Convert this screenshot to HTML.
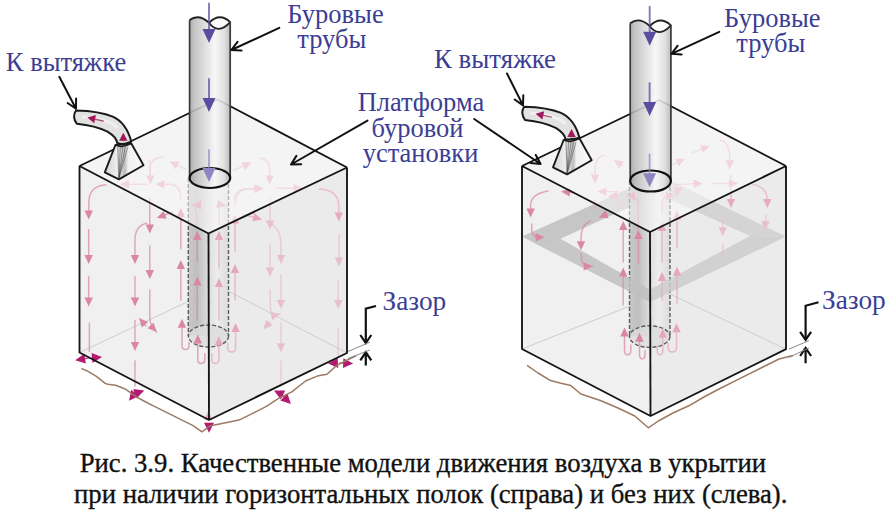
<!DOCTYPE html><html><head><meta charset="utf-8"><style>html,body{margin:0;padding:0;background:#fff;overflow:hidden}svg{display:block;font-family:"Liberation Serif",serif}</style></head><body>
<svg width="890" height="512" viewBox="0 0 890 512">
<defs>
<linearGradient id="pg" x1="0" x2="1" y1="0" y2="0">
<stop offset="0" stop-color="#a4a4a4"/><stop offset="0.12" stop-color="#bdbdbd"/><stop offset="0.62" stop-color="#f6f6f6"/><stop offset="0.85" stop-color="#dedede"/><stop offset="1" stop-color="#b4b4b4"/>
</linearGradient>
<linearGradient id="pgi" x1="0" x2="1" y1="0" y2="0">
<stop offset="0" stop-color="#c4c4c4"/><stop offset="0.22" stop-color="#bababa"/><stop offset="0.5" stop-color="#dcdcdc"/><stop offset="0.72" stop-color="#ededed"/><stop offset="1" stop-color="#dadada"/>
</linearGradient>
<linearGradient id="hood" x1="0" x2="1" y1="0" y2="0">
<stop offset="0" stop-color="#d4d4d4"/><stop offset="0.3" stop-color="#ececec"/><stop offset="0.45" stop-color="#cfcfcf"/><stop offset="0.52" stop-color="#bcbcbc"/><stop offset="0.6" stop-color="#f0f0f0"/><stop offset="1" stop-color="#fafafa"/>
</linearGradient>
</defs>
<rect width="890" height="512" fill="#fff"/>
<polygon points="79.5,166.0 217.5,99.5 347.0,167.5 347.0,353.0 209.0,420.0 79.5,352.5" fill="#f0f0f0"/><polygon points="208.5,233.5 347.0,167.5 347.0,353.0 209.0,420.0" fill="#ebebeb"/><polyline points="79.5,352.5 200.0,296.0" fill="none" stroke="#cdcdcd" stroke-width="1"/><polyline points="217.5,285.5 347.0,353.0" fill="none" stroke="#cdcdcd" stroke-width="1"/>
<rect x="188.3" y="178" width="40.19999999999999" height="158" fill="url(#pgi)" opacity="0.9"/><ellipse cx="208.5" cy="336" rx="20.099999999999994" ry="11" fill="#dcdcdc" opacity="0.8"/><line x1="188.3" y1="178" x2="188.3" y2="336" stroke="#5c5c5c" stroke-width="1.4" stroke-dasharray="4,2"/><line x1="228.5" y1="178" x2="228.5" y2="336" stroke="#5c5c5c" stroke-width="1.4" stroke-dasharray="4,2"/><ellipse cx="208.5" cy="336" rx="20.099999999999994" ry="11" fill="none" stroke="#5c5c5c" stroke-width="1.4" stroke-dasharray="4,2"/>
<path d="M105.9,184.7 Q90,186 89,200 L88.7,212" fill="none" stroke="#da86a6" stroke-width="1.45" stroke-linecap="round" opacity="0.72"/><polygon points="88.7,219.5 84.5,210.5 92.9,210.5" fill="#da86a6" opacity="1"/><path d="M88.7,229.6 L88.7,258.6" fill="none" stroke="#da86a6" stroke-width="1.45" stroke-linecap="round" opacity="0.72"/><polygon points="88.7,264.0 84.5,255.0 92.9,255.0" fill="#da86a6" opacity="1"/><path d="M88.7,276.6 L88.7,301.1" fill="none" stroke="#da86a6" stroke-width="1.45" stroke-linecap="round" opacity="0.72"/><polygon points="88.7,306.5 84.5,297.5 92.9,297.5" fill="#da86a6" opacity="1"/><path d="M89.4,323 L89.4,351.6" fill="none" stroke="#da86a6" stroke-width="1.45" stroke-linecap="round" opacity="0.72"/><path d="M146.5,223.3 Q135,226 135,240 L135,258" fill="none" stroke="#da86a6" stroke-width="1.45" stroke-linecap="round" opacity="0.72"/><polygon points="135.0,264.0 130.8,255.0 139.2,255.0" fill="#da86a6" opacity="1"/><path d="M135,276.6 L135.0,301.1" fill="none" stroke="#da86a6" stroke-width="1.45" stroke-linecap="round" opacity="0.72"/><polygon points="135.0,306.5 130.8,297.5 139.2,297.5" fill="#da86a6" opacity="1"/><path d="M135,320.5 L135.0,345.6" fill="none" stroke="#da86a6" stroke-width="1.45" stroke-linecap="round" opacity="0.72"/><polygon points="135.0,351.0 130.8,342.0 139.2,342.0" fill="#da86a6" opacity="1"/><path d="M135,361 L135.0,386.1" fill="none" stroke="#da86a6" stroke-width="1.45" stroke-linecap="round" opacity="0.72"/><path d="M149.8,198 L149.8,228.1" fill="none" stroke="#da86a6" stroke-width="1.45" stroke-linecap="round" opacity="0.72"/><polygon points="149.8,233.5 145.6,224.5 154.0,224.5" fill="#da86a6" opacity="1"/><path d="M149.8,246 L149.8,273.6" fill="none" stroke="#da86a6" stroke-width="1.45" stroke-linecap="round" opacity="0.72"/><polygon points="149.8,279.0 145.6,270.0 154.0,270.0" fill="#da86a6" opacity="1"/><path d="M149.8,290 L149.8,318 Q150,326 156.7,332" fill="none" stroke="#da86a6" stroke-width="1.45" stroke-linecap="round" opacity="0.72"/><polygon points="156.7,332.0 147.5,328.3 153.6,322.6" fill="#da86a6" opacity="1"/><path d="M146,326 L142.6,322.1" fill="none" stroke="#da86a6" stroke-width="1.45" stroke-linecap="round" opacity="0.72"/><polygon points="139.0,318.0 148.1,322.0 141.8,327.5" fill="#da86a6" opacity="1"/><path d="M172.7,212 L161.8,216.1" fill="none" stroke="#da86a6" stroke-width="1.45" stroke-linecap="round" opacity="0.72"/><polygon points="156.7,218.0 163.7,210.9 166.6,218.8" fill="#da86a6" opacity="1"/><path d="M180.8,248.7 L180.8,213.4" fill="none" stroke="#da86a6" stroke-width="1.45" stroke-linecap="round" opacity="0.72"/><polygon points="180.8,208.0 185.0,217.0 176.6,217.0" fill="#da86a6" opacity="1"/><path d="M180.8,300 L180.8,265.4" fill="none" stroke="#da86a6" stroke-width="1.45" stroke-linecap="round" opacity="0.72"/><polygon points="180.8,260.0 185.0,269.0 176.6,269.0" fill="#da86a6" opacity="1"/><path d="M197.3,320 L197.3,282.0" fill="none" stroke="#da86a6" stroke-width="1.45" stroke-linecap="round" opacity="0.72"/><polygon points="197.3,276.6 201.5,285.6 193.1,285.6" fill="#da86a6" opacity="1"/><path d="M197.3,262 L197.3,236.4" fill="none" stroke="#da86a6" stroke-width="1.45" stroke-linecap="round" opacity="0.72"/><polygon points="197.3,231.0 201.5,240.0 193.1,240.0" fill="#da86a6" opacity="1"/><path d="M197.3,228 Q197,205 192,205" fill="none" stroke="#da86a6" stroke-width="1.3" stroke-linecap="round" opacity="0.72"/><polygon points="192.0,205.0 201.0,200.8 201.0,209.2" fill="#da86a6" opacity="1"/><path d="M219,320 L219.0,283.4" fill="none" stroke="#e6a6bf" stroke-width="1.45" stroke-linecap="round" opacity="0.72"/><polygon points="219.0,278.0 223.2,287.0 214.8,287.0" fill="#e6a6bf" opacity="1"/><path d="M219,268 L219.0,236.4" fill="none" stroke="#e6a6bf" stroke-width="1.45" stroke-linecap="round" opacity="0.72"/><polygon points="219.0,231.0 223.2,240.0 214.8,240.0" fill="#e6a6bf" opacity="1"/><path d="M219,225 L219,210 Q220,204 226,206" fill="none" stroke="#e6a6bf" stroke-width="1.3" stroke-linecap="round" opacity="0.72"/><polygon points="226.0,206.0 216.3,207.9 218.3,199.7" fill="#e6a6bf" opacity="1"/><path d="M235,300 L235.0,269.4" fill="none" stroke="#e6a6bf" stroke-width="1.45" stroke-linecap="round" opacity="0.72"/><polygon points="235.0,264.0 239.2,273.0 230.8,273.0" fill="#e6a6bf" opacity="1"/><path d="M235,251 L235.0,219.8" fill="none" stroke="#e6a6bf" stroke-width="1.45" stroke-linecap="round" opacity="0.72"/><polygon points="235.0,214.4 239.2,223.4 230.8,223.4" fill="#e6a6bf" opacity="1"/><path d="M235,205 Q236,189 248,189 L258,188.5" fill="none" stroke="#e6a6bf" stroke-width="1.45" stroke-linecap="round" opacity="0.72"/><polygon points="263.4,188.3 254.5,192.6 254.4,184.2" fill="#e6a6bf" opacity="1"/><path d="M243,214.4 L256.8,218.1" fill="none" stroke="#e6a6bf" stroke-width="1.45" stroke-linecap="round" opacity="0.72"/><polygon points="262.0,219.5 252.2,221.2 254.4,213.1" fill="#e6a6bf" opacity="1"/><path d="M270,198 L270.0,224.2" fill="none" stroke="#e8bfcf" stroke-width="1.45" stroke-linecap="round" opacity="0.72"/><polygon points="270.0,229.6 265.8,220.6 274.2,220.6" fill="#e8bfcf" opacity="1"/><path d="M270,243.6 L270.0,271.2" fill="none" stroke="#e8bfcf" stroke-width="1.45" stroke-linecap="round" opacity="0.72"/><polygon points="270.0,276.6 265.8,267.6 274.2,267.6" fill="#e8bfcf" opacity="1"/><path d="M272,224.6 Q281,230 281,245 L281,258" fill="none" stroke="#e8bfcf" stroke-width="1.45" stroke-linecap="round" opacity="0.72"/><polygon points="281.0,264.0 276.8,255.0 285.2,255.0" fill="#e8bfcf" opacity="1"/><path d="M281,275 L281.0,303.6" fill="none" stroke="#e8bfcf" stroke-width="1.45" stroke-linecap="round" opacity="0.72"/><polygon points="281.0,309.0 276.8,300.0 285.2,300.0" fill="#e8bfcf" opacity="1"/><path d="M281,323 L281.0,346.8" fill="none" stroke="#e8bfcf" stroke-width="1.45" stroke-linecap="round" opacity="0.72"/><polygon points="281.0,352.2 276.8,343.2 285.2,343.2" fill="#e8bfcf" opacity="1"/><path d="M281,361 L281.0,386.1" fill="none" stroke="#e8bfcf" stroke-width="1.45" stroke-linecap="round" opacity="0.72"/><path d="M270,290 L270.5,310 Q272,316 280,314" fill="none" stroke="#e8bfcf" stroke-width="1.45" stroke-linecap="round" opacity="0.72"/><polygon points="280.0,314.0 272.3,320.3 270.3,312.1" fill="#e8bfcf" opacity="1"/><path d="M270,322 L267.0,325.3" fill="none" stroke="#e8bfcf" stroke-width="1.45" stroke-linecap="round" opacity="0.72"/><polygon points="263.4,329.3 266.3,319.8 272.6,325.4" fill="#e8bfcf" opacity="1"/><path d="M339,234.7 L339.0,261.0" fill="none" stroke="#e8bfcf" stroke-width="1.45" stroke-linecap="round" opacity="0.72"/><polygon points="339.0,266.4 334.8,257.4 343.2,257.4" fill="#e8bfcf" opacity="1"/><path d="M338.2,280 L338.2,303.6" fill="none" stroke="#e8bfcf" stroke-width="1.45" stroke-linecap="round" opacity="0.72"/><polygon points="338.2,309.0 334.0,300.0 342.4,300.0" fill="#e8bfcf" opacity="1"/><path d="M338.2,328 L338.2,355.6" fill="none" stroke="#e8bfcf" stroke-width="1.45" stroke-linecap="round" opacity="0.72"/><path d="M189,342.4 L189,345.4 Q189,349.4 185.5,349.4 Q182,349.4 182,345.4 L182,323.7" fill="none" stroke="#da86a6" stroke-width="1.5" stroke-linecap="round" opacity="0.72"/><polygon points="182.0,318.7 186.2,327.7 177.8,327.7" fill="#da86a6" opacity="1"/><path d="M204.8,353.8 L204.8,359.5 Q204.8,363.5 201.3,363.5 Q197.8,363.5 197.8,359.5 L197.8,339.5" fill="none" stroke="#da86a6" stroke-width="1.5" stroke-linecap="round" opacity="0.72"/><polygon points="197.8,334.5 202.0,343.5 193.6,343.5" fill="#da86a6" opacity="1"/><path d="M211.8,353.8 L211.8,359.5 Q211.8,363.5 215.35000000000002,363.5 Q218.9,363.5 218.9,359.5 L218.9,341.2" fill="none" stroke="#e6a6bf" stroke-width="1.5" stroke-linecap="round" opacity="0.72"/><polygon points="218.9,336.2 223.1,345.2 214.7,345.2" fill="#e6a6bf" opacity="1"/><path d="M227.7,343.3 L227.7,348 Q227.7,352 231.64999999999998,352 Q235.6,352 235.6,348 L235.6,328" fill="none" stroke="#e6a6bf" stroke-width="1.5" stroke-linecap="round" opacity="0.72"/><polygon points="235.6,323.0 239.8,332.0 231.4,332.0" fill="#e6a6bf" opacity="1"/>
<path d="M185.7,169.4 L174.4,163.8" fill="none" stroke="#e9a9c2" stroke-width="1.45" stroke-linecap="round" opacity="0.72"/><polygon points="169.6,161.4 179.5,161.6 175.8,169.2" fill="#e9a9c2" opacity="1"/><path d="M233.3,170.5 L246.6,164.6" fill="none" stroke="#e9a9c2" stroke-width="1.45" stroke-linecap="round" opacity="0.72"/><polygon points="251.5,162.4 245.0,169.9 241.6,162.2" fill="#e9a9c2" opacity="1"/><path d="M163.5,157.3 Q151,157 150.3,168 L150.3,178" fill="none" stroke="#e9a9c2" stroke-width="1.45" stroke-linecap="round" opacity="0.72"/><polygon points="150.3,184.6 146.1,175.6 154.5,175.6" fill="#e9a9c2" opacity="1"/><path d="M259.6,158.3 Q270,159 269.7,170 L269.7,178" fill="none" stroke="#e9a9c2" stroke-width="1.45" stroke-linecap="round" opacity="0.72"/><polygon points="269.7,184.6 265.5,175.6 273.9,175.6" fill="#e9a9c2" opacity="1"/><path d="M146.3,184.2 L125.4,184.2" fill="none" stroke="#e9a9c2" stroke-width="1.45" stroke-linecap="round" opacity="0.72"/><polygon points="120.0,184.2 129.0,180.0 129.0,188.4" fill="#e9a9c2" opacity="1"/><path d="M180.7,198.8 Q181,184.5 170,184.2 L162,184.2" fill="none" stroke="#e9a9c2" stroke-width="1.45" stroke-linecap="round" opacity="0.72"/><polygon points="155.4,184.2 164.4,180.0 164.4,188.4" fill="#e9a9c2" opacity="1"/><path d="M234.3,198.8 Q236,188.7 248,188.7 L257,188.7" fill="none" stroke="#e9a9c2" stroke-width="1.45" stroke-linecap="round" opacity="0.72"/><polygon points="263.6,188.7 254.6,192.9 254.6,184.5" fill="#e9a9c2" opacity="1"/><path d="M276.6,188.3 L297.3,188.3" fill="none" stroke="#e9a9c2" stroke-width="1.45" stroke-linecap="round" opacity="0.72"/><polygon points="302.7,188.3 293.7,192.5 293.7,184.1" fill="#e9a9c2" opacity="1"/><path d="M319.5,189 Q338,190 338.8,205 L338.8,214" fill="none" stroke="#e9a9c2" stroke-width="1.45" stroke-linecap="round" opacity="0.72"/><polygon points="338.8,221.6 334.6,212.6 343.0,212.6" fill="#e9a9c2" opacity="1"/><path d="M149.8,160 L149.8,182.4" fill="none" stroke="#e9a9c2" stroke-width="1.45" stroke-linecap="round" opacity="0.72"/>
<polygon points="79.5,166.0 217.5,99.5 347.0,167.5 208.5,233.5" fill="#f7f7f7" opacity="0.55"/>
<path d="M89,358 L81.1,359.3" fill="none" stroke="#b41a70" stroke-width="1.45" stroke-linecap="round" opacity="0.72"/><polygon points="75.2,360.2 84.3,353.7 85.9,363.6" fill="#b41a70" opacity="1"/><path d="M92,358 L96.0,357.6" fill="none" stroke="#b41a70" stroke-width="1.45" stroke-linecap="round" opacity="0.72"/><polygon points="102.0,357.0 92.5,363.0 91.6,353.0" fill="#b41a70" opacity="1"/><path d="M135,393 L132.7,396.0" fill="none" stroke="#b41a70" stroke-width="1.45" stroke-linecap="round" opacity="0.72"/><polygon points="129.0,400.7 131.2,389.7 139.1,395.9" fill="#b41a70" opacity="1"/><path d="M137,393 L138.6,392.5" fill="none" stroke="#b41a70" stroke-width="1.45" stroke-linecap="round" opacity="0.72"/><polygon points="144.3,390.6 136.4,398.5 133.2,389.0" fill="#b41a70" opacity="1"/><path d="M209,424 L209.0,426.7" fill="none" stroke="#b41a70" stroke-width="1.45" stroke-linecap="round" opacity="0.72"/><polygon points="209.0,432.7 204.0,422.7 214.0,422.7" fill="#b41a70" opacity="1"/><path d="M208.3,418 L208.3,416.2" fill="none" stroke="#e6a6bf" stroke-width="1.45" stroke-linecap="round" opacity="0.72"/><polygon points="208.3,410.8 212.3,419.8 204.3,419.8" fill="#e6a6bf" opacity="1"/><path d="M281,394 L279.4,393.2" fill="none" stroke="#b41a70" stroke-width="1.45" stroke-linecap="round" opacity="0.72"/><polygon points="274.0,390.6 285.2,390.5 280.8,399.5" fill="#b41a70" opacity="1"/><path d="M282,395 L286.7,399.7" fill="none" stroke="#b41a70" stroke-width="1.45" stroke-linecap="round" opacity="0.72"/><polygon points="290.9,404.0 280.3,400.4 287.4,393.4" fill="#b41a70" opacity="1"/><path d="M337,363 L334.0,363.2" fill="none" stroke="#b41a70" stroke-width="1.45" stroke-linecap="round" opacity="0.72"/><polygon points="328.0,363.6 337.6,357.9 338.3,367.9" fill="#b41a70" opacity="1"/><path d="M340,363 L347.2,363.3" fill="none" stroke="#b41a70" stroke-width="1.45" stroke-linecap="round" opacity="0.72"/><polygon points="353.2,363.6 343.0,368.1 343.4,358.2" fill="#b41a70" opacity="1"/>
<polyline points="79.5,166.0 79.5,352.5 209.0,420.0 347.0,353.0 347.0,167.5" fill="none" stroke="#141414" stroke-width="1.85" stroke-linejoin="round"/><polyline points="79.5,166.0 208.5,233.5 347.0,167.5" fill="none" stroke="#141414" stroke-width="1.85" stroke-linejoin="round"/><line x1="208.5" y1="233.5" x2="209" y2="420" stroke="#141414" stroke-width="1.85"/><polyline points="79.5,166.0 217.5,99.5 347.0,167.5" fill="none" stroke="#141414" stroke-width="1.85" stroke-linejoin="round"/>
<path d="M189.6,20.1 Q198.53199999999998,13.15 209.04739999999998,22.8 Q219.6034,12.15 230.2,22.1 L230.2,178 L189.6,178 Z" fill="url(#pg)" opacity="0.88"/><path d="M209.04739999999998,22.8 Q219.6034,12.15 230.2,22.1 Q217.97939999999997,35.35 209.04739999999998,22.8 Z" fill="#fbfbfb" stroke="#222" stroke-width="1.8" stroke-linejoin="round"/><path d="M189.6,20.1 Q198.53199999999998,13.15 209.04739999999998,22.8" fill="none" stroke="#222" stroke-width="1.9"/><line x1="189.6" y1="20.1" x2="189.6" y2="178" stroke="#3a3a3a" stroke-width="1.7"/><line x1="230.2" y1="22.1" x2="230.2" y2="178" stroke="#3a3a3a" stroke-width="1.7"/><ellipse cx="209.89999999999998" cy="178" rx="20.299999999999997" ry="10" fill="url(#pg)" stroke="#111" stroke-width="2.2"/>
<path d="M209,3.4 L209.0,34.6" fill="none" stroke="#5a4da0" stroke-width="2" stroke-linecap="round" opacity="0.72"/><polygon points="209.0,43.0 202.5,29.0 215.5,29.0" fill="#5a4da0" opacity="1"/>
<path d="M209,79 L209.0,103.6" fill="none" stroke="#5a4da0" stroke-width="2" stroke-linecap="round" opacity="0.72"/><polygon points="209.0,112.0 202.5,98.0 215.5,98.0" fill="#5a4da0" opacity="1"/>
<path d="M209,150 L209.0,173.6" fill="none" stroke="#8e86c2" stroke-width="1.8" stroke-linecap="round" opacity="0.72"/><polygon points="209.0,182.0 202.5,168.0 215.5,168.0" fill="#8e86c2" opacity="1"/>
<g transform="translate(-448.2,3.8)"><path d="M524.1,106.7 C536,107 552,109 561,112.9 C570,117 576,125 579.4,137.5 Q572,142 565.4,139.2 C565,135 561,131 555.7,127.8 C548,124 536,121 525,119.9 Q520,113 524.1,106.7 Z" fill="#e2e2e2" stroke="#1a1a1a" stroke-width="2" stroke-linejoin="round"/><path d="M530,113 C545,114 558,117 566,124" fill="none" stroke="#f4f4f4" stroke-width="3" opacity="0.8"/><g transform="translate(0,1.2)"><polygon points="563.6,140.0 579.4,138.3 591.7,160.3 567.1,174.4 553.0,167.3" fill="url(#hood)" stroke="#1a1a1a" stroke-width="1.9" stroke-linejoin="round"/><line x1="566" y1="142" x2="567.1" y2="173.5" stroke="#444" stroke-width="0.7" opacity="0.75"/><line x1="568.5" y1="142" x2="567.1" y2="173.5" stroke="#444" stroke-width="0.7" opacity="0.75"/><line x1="571" y1="142" x2="567.1" y2="173.5" stroke="#444" stroke-width="0.7" opacity="0.75"/><line x1="573.5" y1="142" x2="567.1" y2="173.5" stroke="#444" stroke-width="0.7" opacity="0.75"/><line x1="576" y1="142" x2="567.1" y2="173.5" stroke="#444" stroke-width="0.7" opacity="0.75"/><path d="M563.6,140 Q571,143.5 579.4,138.3" fill="none" stroke="#1a1a1a" stroke-width="1.6"/></g><path d="M551.3,117.2 L540.2,114.7" fill="none" stroke="#a0185c" stroke-width="1.3" stroke-linecap="round" opacity="0.72"/><polygon points="535.5,113.7 544.2,111.3 542.4,119.5" fill="#a0185c" opacity="1"/><path d="M571.5,137 L571.5,133.8" fill="none" stroke="#a0185c" stroke-width="1.3" stroke-linecap="round" opacity="0.72"/><polygon points="571.5,129.0 575.7,137.0 567.3,137.0" fill="#a0185c" opacity="1"/></g>
<polygon points="522.0,166.0 659.0,100.0 786.0,166.0 786.0,349.2 650.5,416.0 522.0,349.0" fill="#f0f0f0"/><polygon points="650.0,232.0 786.0,166.0 786.0,349.2 650.5,416.0" fill="#ebebeb"/><polyline points="522.0,349.0 640.0,302.0" fill="none" stroke="#cdcdcd" stroke-width="1"/><polyline points="659.0,288.8 786.0,349.2" fill="none" stroke="#cdcdcd" stroke-width="1"/>
<polygon points="786.0,236.6 659.0,175.0 658.0,194.0 750.0,236.0" fill="#d4d4d4"/><polygon points="522.0,236.5 659.0,175.0 658.0,194.0 560.5,238.8 542.3,247.2" fill="#c6c6c6"/>
<rect x="629.5" y="181" width="40.5" height="155.60000000000002" fill="url(#pgi)" opacity="0.9"/><ellipse cx="649.7" cy="336.6" rx="20.25" ry="10.8" fill="#dcdcdc" opacity="0.8"/><line x1="629.5" y1="181" x2="629.5" y2="336.6" stroke="#5c5c5c" stroke-width="1.4" stroke-dasharray="4,2"/><line x1="670" y1="181" x2="670" y2="336.6" stroke="#5c5c5c" stroke-width="1.4" stroke-dasharray="4,2"/><ellipse cx="649.7" cy="336.6" rx="20.25" ry="10.8" fill="none" stroke="#5c5c5c" stroke-width="1.4" stroke-dasharray="4,2"/>
<polygon points="542.3,247.2 560.5,238.8 650.0,289.5 650.0,302.0" fill="#c0c0c0" opacity="0.85"/><polygon points="650.0,302.0 650.0,289.5 750.0,236.0 786.0,236.6" fill="#cdcdcd" opacity="0.85"/>
<path d="M548,191 Q531,194 530.6,205 L530.6,211" fill="none" stroke="#da86a6" stroke-width="1.45" stroke-linecap="round" opacity="0.72"/><polygon points="530.6,217.4 526.4,208.4 534.8,208.4" fill="#da86a6" opacity="1"/><path d="M531.7,224 L531.7,230 Q533,237 538,237.3" fill="none" stroke="#da86a6" stroke-width="1.45" stroke-linecap="round" opacity="0.72"/><polygon points="544.6,237.3 535.6,241.5 535.6,233.1" fill="#da86a6" opacity="1"/><path d="M574,192.8 L566.4,192.1" fill="none" stroke="#da86a6" stroke-width="1.45" stroke-linecap="round" opacity="0.72"/><polygon points="561.0,191.6 570.3,188.2 569.6,196.6" fill="#da86a6" opacity="1"/><path d="M608,213.9 L603.7,215.5" fill="none" stroke="#da86a6" stroke-width="1.45" stroke-linecap="round" opacity="0.72"/><polygon points="598.6,217.4 605.6,210.3 608.5,218.2" fill="#da86a6" opacity="1"/><path d="M590.3,221 Q581,225 581,238 L581,242" fill="none" stroke="#da86a6" stroke-width="1.45" stroke-linecap="round" opacity="0.72"/><polygon points="581.0,250.2 576.8,241.2 585.2,241.2" fill="#da86a6" opacity="1"/><path d="M581,254 L582,262 Q585,266 592.7,266.4" fill="none" stroke="#da86a6" stroke-width="1.45" stroke-linecap="round" opacity="0.72"/><polygon points="592.7,266.4 583.7,270.6 583.7,262.2" fill="#da86a6" opacity="1"/><path d="M623.2,262 L623.2,226.4" fill="none" stroke="#da86a6" stroke-width="1.45" stroke-linecap="round" opacity="0.72"/><polygon points="623.2,221.0 627.4,230.0 619.0,230.0" fill="#da86a6" opacity="1"/><path d="M623.2,305 L623.2,272.9" fill="none" stroke="#da86a6" stroke-width="1.45" stroke-linecap="round" opacity="0.72"/><polygon points="623.2,267.5 627.4,276.5 619.0,276.5" fill="#da86a6" opacity="1"/><path d="M638.4,262.8 L638.4,235.4" fill="none" stroke="#da86a6" stroke-width="1.45" stroke-linecap="round" opacity="0.72"/><polygon points="638.4,230.0 642.6,239.0 634.2,239.0" fill="#da86a6" opacity="1"/><path d="M677,303.6 L677.0,272.2" fill="none" stroke="#e6a6bf" stroke-width="1.45" stroke-linecap="round" opacity="0.72"/><polygon points="677.0,266.8 681.2,275.8 672.8,275.8" fill="#e6a6bf" opacity="1"/><path d="M677,248 L677.0,215.8" fill="none" stroke="#e6a6bf" stroke-width="1.45" stroke-linecap="round" opacity="0.72"/><polygon points="677.0,210.4 681.2,219.4 672.8,219.4" fill="#e6a6bf" opacity="1"/><path d="M722.7,219.7 L722.7,230.8" fill="none" stroke="#e8bfcf" stroke-width="1.45" stroke-linecap="round" opacity="0.72"/><polygon points="722.7,236.2 718.5,227.2 726.9,227.2" fill="#e8bfcf" opacity="1"/><path d="M722.7,244 L722.7,256.6" fill="none" stroke="#e8bfcf" stroke-width="1.45" stroke-linecap="round" opacity="0.72"/><path d="M766,215 L765.4,224.9" fill="none" stroke="#e8bfcf" stroke-width="1.45" stroke-linecap="round" opacity="0.72"/><polygon points="765.0,230.3 761.4,221.0 769.8,221.6" fill="#e8bfcf" opacity="1"/><path d="M680.5,187 Q676,192 675.8,196.3" fill="none" stroke="#e6a6bf" stroke-width="1.3" stroke-linecap="round" opacity="0.72"/><polygon points="675.8,196.3 674.2,186.5 682.3,188.8" fill="#e6a6bf" opacity="1"/><path d="M638.4,228 L638.4,205 Q638,197 632,196" fill="none" stroke="#da86a6" stroke-width="1.3" stroke-linecap="round" opacity="0.72"/><polygon points="626.0,196.0 635.0,191.8 635.0,200.2" fill="#da86a6" opacity="1"/><path d="M662,300 L662.0,277.4" fill="none" stroke="#e6a6bf" stroke-width="1.45" stroke-linecap="round" opacity="0.72"/><polygon points="662.0,272.0 666.2,281.0 657.8,281.0" fill="#e6a6bf" opacity="1"/><path d="M662,262 L662.0,227.4" fill="none" stroke="#e6a6bf" stroke-width="1.45" stroke-linecap="round" opacity="0.72"/><polygon points="662.0,222.0 666.2,231.0 657.8,231.0" fill="#e6a6bf" opacity="1"/><path d="M662,212 L662,203 Q663,196 669,196" fill="none" stroke="#e6a6bf" stroke-width="1.3" stroke-linecap="round" opacity="0.72"/><polygon points="675.0,196.0 666.0,200.2 666.0,191.8" fill="#e6a6bf" opacity="1"/><path d="M630.8,345 L630.8,350.7 Q630.8,354.7 627.65,354.7 Q624.5,354.7 624.5,350.7 L624.5,332.4" fill="none" stroke="#da86a6" stroke-width="1.5" stroke-linecap="round" opacity="0.72"/><polygon points="624.5,327.4 628.7,336.4 620.3,336.4" fill="#da86a6" opacity="1"/><path d="M645,350.6 L645,354.8 Q645,358.8 642.25,358.8 Q639.5,358.8 639.5,354.8 L639.5,337.8" fill="none" stroke="#da86a6" stroke-width="1.5" stroke-linecap="round" opacity="0.72"/><polygon points="639.5,332.8 643.7,341.8 635.3,341.8" fill="#da86a6" opacity="1"/><path d="M657.3,346.5 L657.3,350.7 Q657.3,354.7 660.05,354.7 Q662.8,354.7 662.8,350.7 L662.8,333.7" fill="none" stroke="#e6a6bf" stroke-width="1.5" stroke-linecap="round" opacity="0.72"/><polygon points="662.8,328.7 667.0,337.7 658.6,337.7" fill="#e6a6bf" opacity="1"/><path d="M668.3,343.8 L668.3,348 Q668.3,352 672.4,352 Q676.5,352 676.5,348 L676.5,328.3" fill="none" stroke="#e6a6bf" stroke-width="1.5" stroke-linecap="round" opacity="0.72"/><polygon points="676.5,323.3 680.7,332.3 672.3,332.3" fill="#e6a6bf" opacity="1"/>
<path d="M604.4,155.2 Q595,157 595,170 L595,177" fill="none" stroke="#e9a9c2" stroke-width="1.45" stroke-linecap="round" opacity="0.72"/><polygon points="595.0,183.4 590.8,174.4 599.2,174.4" fill="#e9a9c2" opacity="1"/><path d="M595,200 L595.0,209.6" fill="none" stroke="#e9a9c2" stroke-width="1.45" stroke-linecap="round" opacity="0.72"/><path d="M623,165.8 L618.4,162.9" fill="none" stroke="#e9a9c2" stroke-width="1.45" stroke-linecap="round" opacity="0.72"/><polygon points="613.8,160.0 623.7,161.2 619.2,168.4" fill="#e9a9c2" opacity="1"/><path d="M618.5,191.6 L602.8,191.6" fill="none" stroke="#e9a9c2" stroke-width="1.45" stroke-linecap="round" opacity="0.72"/><polygon points="597.4,191.6 606.4,187.4 606.4,195.8" fill="#e9a9c2" opacity="1"/><path d="M672.3,164.6 L680.3,161.0" fill="none" stroke="#e9a9c2" stroke-width="1.45" stroke-linecap="round" opacity="0.72"/><polygon points="685.2,158.8 678.7,166.3 675.3,158.7" fill="#e9a9c2" opacity="1"/><path d="M692.2,152.9 L704.8,147.9" fill="none" stroke="#e9a9c2" stroke-width="1.45" stroke-linecap="round" opacity="0.72"/><polygon points="709.8,145.9 703.0,153.1 699.9,145.3" fill="#e9a9c2" opacity="1"/><path d="M720.4,140 Q729,142 729.7,155 L729.7,163" fill="none" stroke="#e9a9c2" stroke-width="1.45" stroke-linecap="round" opacity="0.72"/><polygon points="729.7,169.3 725.5,160.3 733.9,160.3" fill="#e9a9c2" opacity="1"/><path d="M731,175 L731.0,202.6" fill="none" stroke="#e9a9c2" stroke-width="1.45" stroke-linecap="round" opacity="0.72"/><polygon points="731.0,208.0 726.8,199.0 735.2,199.0" fill="#e9a9c2" opacity="1"/><path d="M675.8,184.6 L697.4,183.6" fill="none" stroke="#e9a9c2" stroke-width="1.45" stroke-linecap="round" opacity="0.72"/><polygon points="702.8,183.4 694.0,188.0 693.6,179.6" fill="#e9a9c2" opacity="1"/><path d="M712,183.4 L732.6,183.4" fill="none" stroke="#e9a9c2" stroke-width="1.45" stroke-linecap="round" opacity="0.72"/><polygon points="738.0,183.4 729.0,187.6 729.0,179.2" fill="#e9a9c2" opacity="1"/><path d="M753.2,184.6 Q767,187 767.3,200 L767.3,202" fill="none" stroke="#e9a9c2" stroke-width="1.45" stroke-linecap="round" opacity="0.72"/><polygon points="767.3,208.0 763.1,199.0 771.5,199.0" fill="#e9a9c2" opacity="1"/><path d="M623,208 Q622,198 615,196" fill="none" stroke="#e9a9c2" stroke-width="1.3" stroke-linecap="round" opacity="0.72"/><polygon points="608.0,196.0 617.0,191.8 617.0,200.2" fill="#e9a9c2" opacity="1"/>
<polygon points="522.0,166.0 659.0,100.0 786.0,166.0 650.0,232.0" fill="#f7f7f7" opacity="0.55"/>
<polyline points="522.0,166.0 522.0,349.0 650.5,416.0 786.0,349.2 786.0,166.0" fill="none" stroke="#141414" stroke-width="1.85" stroke-linejoin="round"/><polyline points="522.0,166.0 650.0,232.0 786.0,166.0" fill="none" stroke="#141414" stroke-width="1.85" stroke-linejoin="round"/><line x1="650" y1="232" x2="650.5" y2="416" stroke="#141414" stroke-width="1.85"/><polyline points="522.0,166.0 659.0,100.0 786.0,166.0" fill="none" stroke="#141414" stroke-width="1.85" stroke-linejoin="round"/>
<path d="M630.2,23.3 Q639.154,16.35 649.6953,26.0 Q660.2773,15.35 670.9,25.3 L670.9,181 L630.2,181 Z" fill="url(#pg)" opacity="0.88"/><path d="M649.6953,26.0 Q660.2773,15.35 670.9,25.3 Q658.6492999999999,38.55 649.6953,26.0 Z" fill="#fbfbfb" stroke="#222" stroke-width="1.8" stroke-linejoin="round"/><path d="M630.2,23.3 Q639.154,16.35 649.6953,26.0" fill="none" stroke="#222" stroke-width="1.9"/><line x1="630.2" y1="23.3" x2="630.2" y2="181" stroke="#3a3a3a" stroke-width="1.7"/><line x1="670.9" y1="25.3" x2="670.9" y2="181" stroke="#3a3a3a" stroke-width="1.7"/><ellipse cx="650.55" cy="181" rx="20.349999999999966" ry="10.5" fill="url(#pg)" stroke="#111" stroke-width="2.2"/>
<path d="M649.7,6.8 L649.7,37.4" fill="none" stroke="#5a4da0" stroke-width="2" stroke-linecap="round" opacity="0.72"/><polygon points="649.7,45.8 643.2,31.8 656.2,31.8" fill="#5a4da0" opacity="1"/>
<path d="M649.6,83.2 L649.6,107.6" fill="none" stroke="#5a4da0" stroke-width="2" stroke-linecap="round" opacity="0.72"/><polygon points="649.6,116.0 643.1,102.0 656.1,102.0" fill="#5a4da0" opacity="1"/>
<path d="M649.6,154.3 L649.6,178.8" fill="none" stroke="#8e86c2" stroke-width="1.8" stroke-linecap="round" opacity="0.72"/><polygon points="649.6,187.2 643.1,173.2 656.1,173.2" fill="#8e86c2" opacity="1"/>
<g transform="translate(0,0)"><path d="M524.1,106.7 C536,107 552,109 561,112.9 C570,117 576,125 579.4,137.5 Q572,142 565.4,139.2 C565,135 561,131 555.7,127.8 C548,124 536,121 525,119.9 Q520,113 524.1,106.7 Z" fill="#e2e2e2" stroke="#1a1a1a" stroke-width="2" stroke-linejoin="round"/><path d="M530,113 C545,114 558,117 566,124" fill="none" stroke="#f4f4f4" stroke-width="3" opacity="0.8"/><g transform="translate(0,0)"><polygon points="563.6,140.0 579.4,138.3 591.7,160.3 567.1,174.4 553.0,167.3" fill="url(#hood)" stroke="#1a1a1a" stroke-width="1.9" stroke-linejoin="round"/><line x1="566" y1="142" x2="567.1" y2="173.5" stroke="#444" stroke-width="0.7" opacity="0.75"/><line x1="568.5" y1="142" x2="567.1" y2="173.5" stroke="#444" stroke-width="0.7" opacity="0.75"/><line x1="571" y1="142" x2="567.1" y2="173.5" stroke="#444" stroke-width="0.7" opacity="0.75"/><line x1="573.5" y1="142" x2="567.1" y2="173.5" stroke="#444" stroke-width="0.7" opacity="0.75"/><line x1="576" y1="142" x2="567.1" y2="173.5" stroke="#444" stroke-width="0.7" opacity="0.75"/><path d="M563.6,140 Q571,143.5 579.4,138.3" fill="none" stroke="#1a1a1a" stroke-width="1.6"/></g><path d="M551.3,117.2 L540.2,114.7" fill="none" stroke="#a0185c" stroke-width="1.3" stroke-linecap="round" opacity="0.72"/><polygon points="535.5,113.7 544.2,111.3 542.4,119.5" fill="#a0185c" opacity="1"/><path d="M571.5,137 L571.5,133.8" fill="none" stroke="#a0185c" stroke-width="1.3" stroke-linecap="round" opacity="0.72"/><polygon points="571.5,129.0 575.7,137.0 567.3,137.0" fill="#a0185c" opacity="1"/></g>
<polyline points="81.4,368.5 87.6,371.1 96.4,376.4 105.2,383.4 107.8,384.3 115.7,385.2 124.5,388.7 129.8,392.2 136.0,396.6 143.9,401.0 154.4,406.3 168.5,413.3 182.5,420.3 193.1,425.6 201.9,431.8 209.8,426.0 219.5,424.0 239.0,420.1 254.7,412.3 266.4,406.4 278.2,398.6 291.8,391.8 305.5,381.0 317.2,376.1 327.0,374.2 336.8,365.4 346.5,360.5 356.3,355.6" fill="none" stroke="#9c7a64" stroke-width="1.5" stroke-linejoin="round"/>
<polyline points="527.0,365.4 538.0,373.0 550.6,380.6 560.0,383.0 570.8,385.6 580.9,394.0 601.0,400.8 618.0,408.0 634.8,416.0 648.3,427.8 658.4,421.0 673.0,413.0 688.8,405.8 704.0,397.0 719.0,389.0 742.7,377.2 763.0,367.0 779.0,359.0 793.0,355.5" fill="none" stroke="#9c7a64" stroke-width="1.5" stroke-linejoin="round"/>
<path d="M279.3,27.9 L231.3,50 M237.5,41.9 L231.3,50 L241.5,50.6" fill="none" stroke="#111" stroke-width="2.0" stroke-linecap="round" stroke-linejoin="round"/>
<path d="M59.3,76.8 L76,108.8 M67.6,103.0 L76,108.8 L76.1,98.6" fill="none" stroke="#111" stroke-width="2.0" stroke-linecap="round" stroke-linejoin="round"/>
<path d="M367.5,120.6 L291,164.5 M296.4,155.9 L291,164.5 L301.2,164.2" fill="none" stroke="#111" stroke-width="2.0" stroke-linecap="round" stroke-linejoin="round"/>
<path d="M719.3,31.8 L671.5,53.8 M677.7,45.7 L671.5,53.8 L681.7,54.4" fill="none" stroke="#111" stroke-width="2.0" stroke-linecap="round" stroke-linejoin="round"/>
<path d="M507,73.5 L523,105.4 M514.7,99.5 L523,105.4 L523.3,95.2" fill="none" stroke="#111" stroke-width="2.0" stroke-linecap="round" stroke-linejoin="round"/>
<path d="M474.2,119 L540.6,164 M530.5,162.9 L540.6,164 L535.8,155.0" fill="none" stroke="#111" stroke-width="2.0" stroke-linecap="round" stroke-linejoin="round"/>
<path d="M376,306 L365.8,308.6 L365.8,343" fill="none" stroke="#111" stroke-width="2.2" stroke-linejoin="miter"/><path d="M360.3,335 L365.8,343 L371.3,335" fill="none" stroke="#111" stroke-width="2.2"/><path d="M365.8,365.6 L365.8,352.3 M360.3,360.3 L365.8,352.3 L371.3,360.3" fill="none" stroke="#111" stroke-width="2.2"/><line x1="347.8" y1="351.6" x2="369.7" y2="342.2" stroke="#888" stroke-width="1"/><line x1="347.8" y1="358.6" x2="369.7" y2="350" stroke="#888" stroke-width="1"/>
<path d="M818.5,302.3 L805.6,305.8 L805.6,339.8" fill="none" stroke="#111" stroke-width="2.2" stroke-linejoin="miter"/><path d="M800.1,331.8 L805.6,339.8 L811.1,331.8" fill="none" stroke="#111" stroke-width="2.2"/><path d="M805.6,363.2 L805.6,348 M800.1,356 L805.6,348 L811.1,356" fill="none" stroke="#111" stroke-width="2.2"/><line x1="789" y1="349.2" x2="809" y2="340.5" stroke="#888" stroke-width="1"/><line x1="789" y1="357.4" x2="809" y2="348" stroke="#888" stroke-width="1"/>
<text x="335.5" y="23" text-anchor="middle" fill="#3b3e94" font-size="26.5">Буровые</text>
<text x="331.8" y="48" text-anchor="middle" fill="#3b3e94" font-size="26.5">трубы</text>
<text x="66" y="71" text-anchor="middle" fill="#3b3e94" font-size="26.5">К вытяжке</text>
<text x="421" y="110.5" text-anchor="middle" fill="#3b3e94" font-size="26.5">Платформа</text>
<text x="417.5" y="136.7" text-anchor="middle" fill="#3b3e94" font-size="26.5">буровой</text>
<text x="420.5" y="161.5" text-anchor="middle" fill="#3b3e94" font-size="26.5">установки</text>
<text x="382.5" y="310.3" text-anchor="start" fill="#3b3e94" font-size="27.3">Зазор</text>
<text x="772.3" y="27.4" text-anchor="middle" fill="#3b3e94" font-size="26.5">Буровые</text>
<text x="770.8" y="51.8" text-anchor="middle" fill="#3b3e94" font-size="26.5">трубы</text>
<text x="495" y="68.4" text-anchor="middle" fill="#3b3e94" font-size="26.9">К вытяжке</text>
<text x="822" y="309" text-anchor="start" fill="#3b3e94" font-size="27.3">Зазор</text>
<text x="422.9" y="472" text-anchor="middle" fill="#111" stroke="#111" stroke-width="0.35" font-size="26.7">Рис. 3.9. Качественные модели движения воздуха в укрытии</text>
<text x="430.75" y="502.5" text-anchor="middle" fill="#111" stroke="#111" stroke-width="0.35" font-size="26.7">при наличии горизонтальных полок (справа) и без них (слева).</text>
</svg></body></html>
